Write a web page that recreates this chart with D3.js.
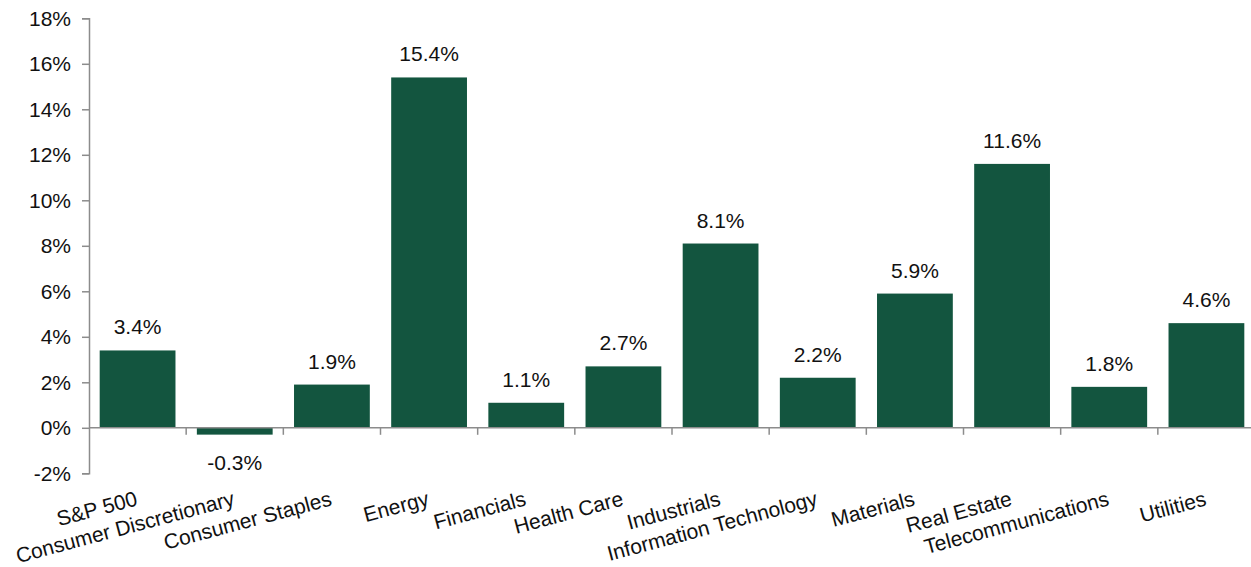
<!DOCTYPE html>
<html>
<head>
<meta charset="utf-8">
<script src="https://cdn.jsdelivr.net/npm/d3@7/dist/d3.min.js"></script>
<style>
  html, body { margin: 0; padding: 0; background: #fff; overflow: hidden; }
  text { font-family: Arial, "Liberation Sans", sans-serif; fill: #111; }
</style>
</head>
<body>
<svg id="chart" width="1251" height="567"></svg>
<script>
const categories = ["S&P 500", "Consumer Discretionary", "Consumer Staples", "Energy", "Financials",
  "Health Care", "Industrials", "Information Technology", "Materials", "Real Estate",
  "Telecommunications", "Utilities"];
const values = [3.4, -0.3, 1.9, 15.4, 1.1, 2.7, 8.1, 2.2, 5.9, 11.6, 1.8, 4.6];
const yTicks = [-2, 0, 2, 4, 6, 8, 10, 12, 14, 16, 18];

(function () {
const svg = d3.select("#chart");
const mLeft = 89, mRight = 1255, mTop = 18.3, mBottom = 473.3;
const barColor = "#13553f";
const axisColor = "#8c8c8c";
const fontSize = 21;

const x = d3.scaleBand().domain(categories).range([mLeft, mRight]).paddingInner(0.22).paddingOuter(0.11);
const y = d3.scaleLinear().domain([-2, 18]).range([mBottom, mTop]);

// y axis
const yAxis = d3.axisLeft(y).tickValues(yTicks).tickSize(7).tickPadding(11).tickFormat(d => d + "%");
const gy = svg.append("g").attr("transform", `translate(${mLeft},0)`).call(yAxis);
gy.select(".domain").attr("stroke", axisColor).attr("stroke-width", 1.5);
gy.selectAll(".tick line").attr("stroke", axisColor).attr("stroke-width", 1.5);
gy.selectAll(".tick text").attr("font-size", fontSize).attr("fill", "#111")
  .attr("font-family", "Arial, 'Liberation Sans', sans-serif");

// bars
svg.append("g").selectAll("rect").data(values).join("rect")
  .attr("x", (d, i) => x(categories[i]))
  .attr("width", x.bandwidth())
  .attr("y", d => y(Math.max(0, d)))
  .attr("height", d => Math.abs(y(d) - y(0)))
  .attr("fill", barColor);

// x axis line at zero with boundary ticks
const boundaries = d3.range(1, categories.length + 1).map(i => mLeft + i * (mRight - mLeft) / categories.length);
svg.append("line").attr("x1", mLeft).attr("x2", mRight).attr("y1", y(0)).attr("y2", y(0))
  .attr("stroke", axisColor).attr("stroke-width", 1.5);
svg.append("g").selectAll("line").data(boundaries).join("line")
  .attr("x1", d => d).attr("x2", d => d).attr("y1", y(0)).attr("y2", y(0) + 7)
  .attr("stroke", axisColor).attr("stroke-width", 1.5);

// value labels
svg.append("g").selectAll("text").data(values).join("text")
  .attr("x", (d, i) => x(categories[i]) + x.bandwidth() / 2)
  .attr("y", d => d >= 0 ? y(d) - 16 : y(d) + 35)
  .attr("text-anchor", "middle")
  .attr("font-size", fontSize)
  .text(d => d.toFixed(1) + "%");

// category labels, rotated
svg.append("g").selectAll("text").data(categories).join("text")
  .attr("transform", d => `translate(${x(d) + x.bandwidth() / 2 + 1},505) rotate(-15)`)
  .attr("text-anchor", "end")
  .attr("font-size", fontSize)
  .text(d => d);
})();
</script>
</body>
</html>
